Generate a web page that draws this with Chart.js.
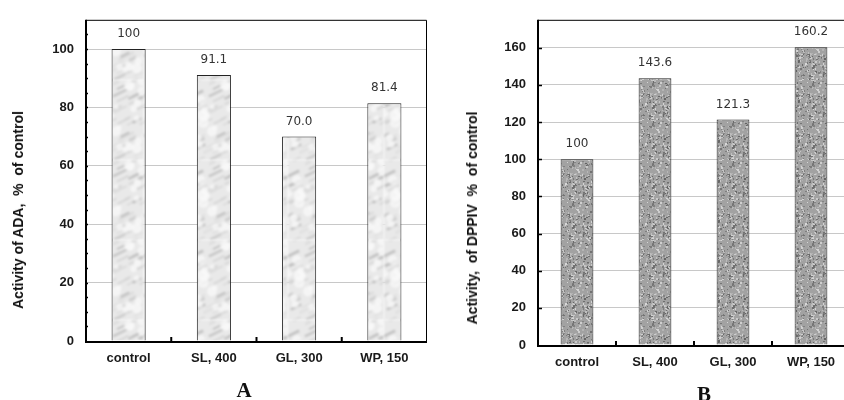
<!DOCTYPE html>
<html>
<head>
<meta charset="utf-8">
<script src="https://cdn.jsdelivr.net/npm/chart.js@4/dist/chart.umd.min.js"></script>
<style>
  html, body { margin: 0; padding: 0; background: #fff; width: 844px; height: 400px; overflow: hidden; position: relative; }
  canvas { position: absolute; top: 0; }
  .ytitle { position: absolute; font: bold 14px "Liberation Sans", Arial, sans-serif; color: #111; white-space: pre; transform: translate(-50%, -50%) rotate(-90deg); }
  .panel { position: absolute; font: bold 21px "Liberation Serif", "Times New Roman", serif; color: #111; transform: translate(-50%, -50%); }
</style>
</head>
<body>
<canvas id="chartA" width="430" height="400" style="left:0px"></canvas>
<canvas id="chartB" width="430" height="400" style="left:430px"></canvas>
<div class="ytitle" style="left:18px; top:210px;">Activity of ADA,  %  of control</div>
<div class="ytitle" style="left:472px; top:218px;">Activity,  of DPPIV  %  of control</div>
<div class="panel" style="left:244px; top:390px;">A</div>
<div class="panel" style="left:704px; top:394px;">B</div>
<script>
// ---- data ----
const categories = ['control', 'SL, 400', 'GL, 300', 'WP, 150'];
const adaValues = [100, 91.1, 70.0, 81.4];
const adaLabels = ['100', '91.1', '70.0', '81.4'];
const dppivValues = [100, 143.6, 121.3, 160.2];
const dppivLabels = ['100', '143.6', '121.3', '160.2'];
const adaTicks = [0, 20, 40, 60, 80, 100];
const dppivTicks = [0, 20, 40, 60, 80, 100, 120, 140, 160];

// ---- deterministic texture patterns (style only) ----
function rng(seed) { let s = seed >>> 0; return () => { s = (s * 1664525 + 1013904223) >>> 0; return s / 4294967296; }; }
function marblePattern() {
  const W = 48, H = 80;
  const src = document.createElement('canvas'); src.width = W; src.height = H;
  const g = src.getContext('2d'); const r = rng(7);
  g.fillStyle = '#e9e9e9'; g.fillRect(0, 0, W, H);
  for (let i = 0; i < 40; i++) {
    const x = r() * W, y = r() * H, L = 5 + r() * 12;
    const shade = 165 + Math.floor(r() * 50);
    g.strokeStyle = `rgba(${shade},${shade},${shade},${0.35 + r() * 0.35})`;
    g.lineWidth = 1 + r() * 2;
    for (const dx of [-W, 0, W]) for (const dy of [-H, 0, H]) {
      g.beginPath(); g.moveTo(x + dx, y + dy); g.lineTo(x + dx + L, y + dy - L * 0.5); g.stroke();
    }
  }
  for (let i = 0; i < 25; i++) {
    const x = r() * W, y = r() * H;
    g.fillStyle = 'rgba(250,250,250,0.7)';
    g.beginPath(); g.arc(x, y, 2 + r() * 4, 0, Math.PI * 2); g.fill();
  }
  const c = document.createElement('canvas'); c.width = W; c.height = H;
  const h = c.getContext('2d');
  h.filter = 'blur(0.8px)';
  for (const dx of [-W, 0, W]) for (const dy of [-H, 0, H]) h.drawImage(src, dx, dy);
  return h.createPattern(c, 'repeat');
}
function granitePattern() {
  const c = document.createElement('canvas'); c.width = 40; c.height = 40;
  const g = c.getContext('2d'); const r = rng(13);
  g.fillStyle = '#a2a2a2'; g.fillRect(0, 0, 40, 40);
  for (let i = 0; i < 300; i++) {
    const x = Math.floor(r() * 40), y = Math.floor(r() * 40);
    const t = r();
    let v = t < 0.5 ? 100 + Math.floor(r() * 35) : 175 + Math.floor(r() * 40);
    g.fillStyle = `rgb(${v},${v},${v})`;
    g.fillRect(x, y, 1 + Math.floor(r() * 2), 1 + Math.floor(r() * 2));
  }
  return g.createPattern(c, 'repeat');
}

// ---- plugins ----
const valueLabelPlugin = {
  id: 'valueLabels',
  afterDatasetsDraw(chart, args, opts) {
    const ctx = chart.ctx; const meta = chart.getDatasetMeta(0);
    ctx.save();
    ctx.font = '12px "DejaVu Sans", Verdana, sans-serif';
    ctx.fillStyle = '#333'; ctx.textAlign = 'center'; ctx.textBaseline = 'middle';
    meta.data.forEach((bar, i) => { ctx.fillText(opts.labels[i], bar.x, bar.y - 15); });
    ctx.restore();
  }
};
const framePlugin = {
  id: 'frame',
  afterDraw(chart, args, opts) {
    const ctx = chart.ctx; const a = chart.chartArea;
    const xs = chart.scales.x, ys = chart.scales.y;
    ctx.save();
    ctx.strokeStyle = '#000';
    ctx.lineWidth = 1;
    ctx.beginPath();
    ctx.moveTo(a.left, a.top + 0.5); ctx.lineTo(a.right - 0.5, a.top + 0.5); ctx.lineTo(a.right - 0.5, a.bottom);
    ctx.stroke();
    ctx.lineWidth = 2;
    ctx.beginPath(); ctx.moveTo(a.left, a.top); ctx.lineTo(a.left, a.bottom + 1); ctx.lineTo(a.right, a.bottom + 1); ctx.stroke();
    // x ticks at category boundaries, pointing inward
    for (let i = 0; i < categories.length - 1; i++) {
      const px = (xs.getPixelForValue(i) + xs.getPixelForValue(i + 1)) / 2;
      ctx.beginPath(); ctx.moveTo(px, a.bottom); ctx.lineTo(px, a.bottom - 4); ctx.stroke();
    }
    // y ticks inward
    ctx.lineWidth = 1.5;
    for (let v = opts.minorStep; v < ys.max; v += opts.minorStep) {
      const py = Math.round(ys.getPixelForValue(v)) + 0.5;
      ctx.beginPath(); ctx.moveTo(a.left, py); ctx.lineTo(a.left + opts.tickLen, py); ctx.stroke();
    }
    ctx.restore();
  }
};

function makeChart(id, values, labels, ticks, max, pattern, yWidth, xHeight, pad, barPct, minorStep, tickLen) {
  return new Chart(document.getElementById(id), {
    type: 'bar',
    data: {
      labels: categories,
      datasets: [{ data: values, backgroundColor: pattern, borderColor: '#222', borderWidth: 1, borderSkipped: 'bottom',
                   barPercentage: barPct, categoryPercentage: 1 }]
    },
    options: {
      responsive: false, animation: false, devicePixelRatio: 1,
      layout: { padding: pad },
      plugins: { legend: { display: false }, tooltip: { enabled: false },
                 valueLabels: { labels }, frame: { minorStep, tickLen } },
      scales: {
        x: {
          grid: { display: false, drawTicks: false },
          border: { display: false },
          ticks: { color: '#1a1a1a', font: { family: '"Liberation Sans", Arial, sans-serif', size: 13, weight: 'bold' }, padding: 10 },
          afterFit(s) { s.height = xHeight; }
        },
        y: {
          min: 0, max: max,
          afterBuildTicks(s) { s.ticks = ticks.map(v => ({ value: v })); },
          grid: { color: '#c8c8c8', lineWidth: 1, drawTicks: false },
          border: { display: false },
          ticks: { color: '#1a1a1a', font: { family: '"Liberation Sans", Arial, sans-serif', size: 13, weight: 'bold' }, padding: 12 },
          afterFit(s) { s.width = yWidth; }
        }
      }
    },
    plugins: [valueLabelPlugin, framePlugin]
  });
}

makeChart('chartA', adaValues, adaLabels, adaTicks, 110, marblePattern(), 86, 59, { top: 16, right: 3, left: 0, bottom: 0 }, 0.4, 5, 2);
makeChart('chartB', dppivValues, dppivLabels, dppivTicks, 175, granitePattern(), 108, 55, { top: 17, right: 10, left: 0, bottom: 0 }, 0.42, 20, 4);
</script>
</body>
</html>
